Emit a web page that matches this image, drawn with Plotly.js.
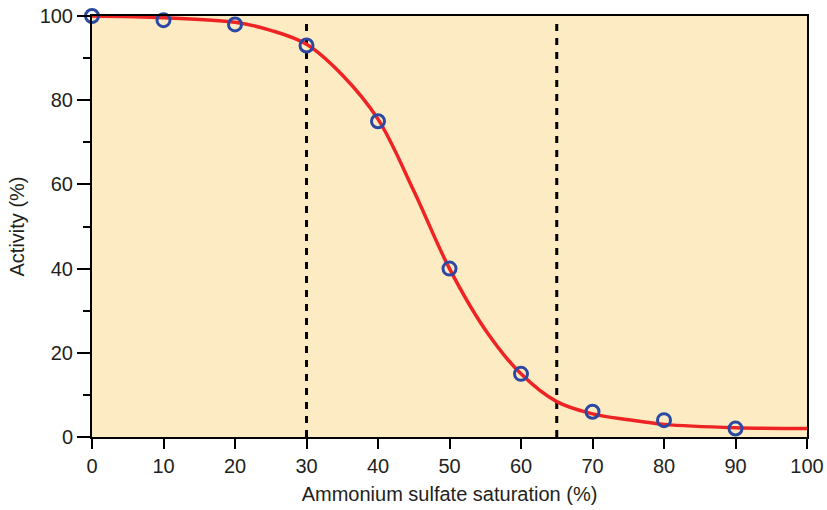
<!DOCTYPE html>
<html>
<head>
<meta charset="utf-8">
<script src="https://cdn.plot.ly/plotly-3.0.1.min.js"></script>
<style>html,body{margin:0;padding:0;background:#fff;}#chart{width:827px;height:510px;}</style>
</head>
<body>
<div id="chart"></div>
<script>
// Measured data points
var saturation = [0, 10, 20, 30, 40, 50, 60, 70, 80, 90];
var activity = [100, 99, 98, 93, 75, 40, 15, 6, 4, 2];
// Fitted curve
var curveX = [0, 10, 20, 25, 30, 35, 40, 45, 50, 55, 60, 65, 70, 75, 80, 90, 100];
var curveY = [100, 99.6, 98.5, 96.6, 93.3, 86, 75.5, 58.5, 40, 25.5, 15, 8.4, 5.5, 4.1, 3, 2.2, 2];
// Dashed fraction boundaries
var cutoffs = [30, 65];
var cutoffTop = 98.5;

var traces = [];
cutoffs.forEach(function (c) {
  traces.push({
    x: [c, c], y: [0, cutoffTop], mode: 'lines', type: 'scatter',
    line: {color: '#000', width: 3, dash: '7px,7px'}, hoverinfo: 'skip', showlegend: false
  });
});
traces.push({
  x: curveX, y: curveY, mode: 'lines', type: 'scatter',
  line: {color: '#ee2424', width: 3.5, shape: 'spline', smoothing: 1},
  showlegend: false, cliponaxis: false
});
traces.push({
  x: saturation, y: activity, mode: 'markers', type: 'scatter',
  marker: {symbol: 'circle-open', size: 13, color: '#2b48a3', line: {width: 3, color: '#2b48a3'}},
  showlegend: false, cliponaxis: false
});

var fontFam = 'Liberation Sans, Arial, sans-serif';
var txtCol = '#231f20';
var layout = {
  width: 827, height: 510,
  margin: {l: 92, r: 20, t: 16, b: 73},
  paper_bgcolor: '#ffffff',
  plot_bgcolor: '#fdebc3',
  font: {family: fontFam, color: txtCol, size: 20},
  xaxis: {
    range: [0, 100], tickmode: 'array', tickvals: [0,10,20,30,40,50,60,70,80,90,100],
    ticks: 'outside', ticklen: 10, tickwidth: 2, tickcolor: '#000',
    showline: true, linewidth: 2, linecolor: '#000', mirror: true,
    showgrid: false, zeroline: false,
    tickfont: {size: 20, family: fontFam, color: txtCol},
    title: {text: 'Ammonium sulfate saturation (%)', font: {size: 20, family: fontFam, color: txtCol}, standoff: 11}
  },
  yaxis: {
    range: [0, 100], tickmode: 'array', tickvals: [0,20,40,60,80,100],
    ticks: 'outside', ticklen: 13, tickwidth: 2, tickcolor: '#000',
    minor: {tickvals: [10,30,50,70,90], ticks: 'outside', ticklen: 7, tickwidth: 2, tickcolor: '#000', showgrid: false},
    showline: true, linewidth: 2, linecolor: '#000', mirror: true,
    showgrid: false, zeroline: false,
    tickfont: {size: 20, family: fontFam, color: txtCol},
    title: {text: 'Activity (%)', font: {size: 20, family: fontFam, color: txtCol}, standoff: 10}
  }
};
Plotly.newPlot('chart', traces, layout, {displayModeBar: false, staticPlot: true});
</script>
</body>
</html>
